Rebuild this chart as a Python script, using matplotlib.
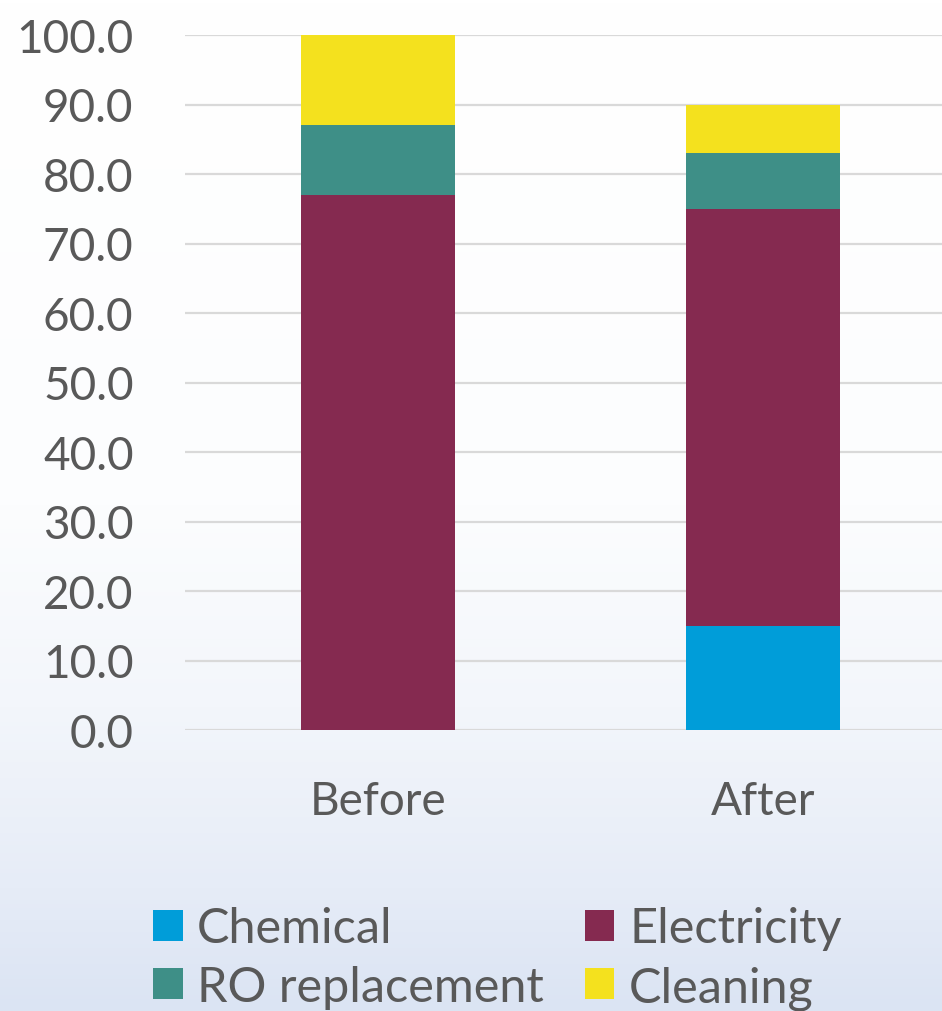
import numpy as np
import matplotlib.pyplot as plt
from matplotlib.colors import LinearSegmentedColormap

plt.rcParams['font.family'] = ['Lato', 'DejaVu Sans']

categories = ['Before', 'After']
chemical = [0.0, 15.0]
electricity = [77.0, 60.0]
ro_replacement = [10.0, 8.0]
cleaning = [13.0, 7.0]
yticks = [0, 10, 20, 30, 40, 50, 60, 70, 80, 90, 100]

colors = {
    'Chemical': '#009DD9',
    'Electricity': '#852A50',
    'RO replacement': '#3E8F87',
    'Cleaning': '#F4E11E',
}
text_color = '#595959'

fig = plt.figure(figsize=(9.42, 10.12), dpi=100)

# soft white-to-blue backdrop
bg = fig.add_axes([0, 0, 1, 1], zorder=-1)
grad = np.linspace(0, 1, 256).reshape(-1, 1)
bg_cmap = LinearSegmentedColormap.from_list(
    'bg', [(0.0, '#dbe4f3'), (0.12, '#e6ecf7'), (0.3, '#f3f6fb'),
           (0.5, '#fcfdfe'), (1.0, '#ffffff')])
bg.imshow(grad, aspect='auto', cmap=bg_cmap, origin='lower', extent=[0, 1, 0, 1])
bg.set_axis_off()

ax = fig.add_axes([185 / 942, 281 / 1012, 771 / 942, 695 / 1012])
ax.set_facecolor('none')

x = np.arange(len(categories))
w = 0.4
bottom = np.zeros(len(categories))
series = [('Chemical', chemical), ('Electricity', electricity),
          ('RO replacement', ro_replacement), ('Cleaning', cleaning)]
bars = {}
for name, vals in series:
    vals = np.array(vals)
    bars[name] = ax.bar(x, vals, w, bottom=bottom, color=colors[name], zorder=3)
    bottom = bottom + vals

ax.set_xlim(-0.5, 1.5)
ax.set_ylim(0, 100)
ax.set_yticks(yticks)
ax.set_yticklabels([f'{v:.1f}' for v in yticks])
ax.set_xticks(x)
ax.set_xticklabels(categories)
ax.grid(axis='y', color='#d9d9d9', linewidth=1.6, zorder=0)
ax.set_axisbelow(True)
for s in ax.spines.values():
    s.set_visible(False)
ax.tick_params(axis='both', length=0, labelsize=33, labelcolor=text_color)
ax.tick_params(axis='y', pad=37)
ax.tick_params(axis='x', pad=36)

# legend, two columns, running off the bottom edge
handles = [bars['Chemical'], bars['RO replacement'], bars['Electricity'], bars['Cleaning']]
labels = ['Chemical', 'RO replacement', 'Electricity', 'Cleaning']
leg = fig.legend(handles, labels, ncol=2, loc='upper left',
                 bbox_to_anchor=(134 / 942, 1 - 888 / 1012),
                 frameon=False, fontsize=35, labelcolor=text_color,
                 handlelength=0.6, handleheight=0.6, handletextpad=0.3,
                 columnspacing=0.85, labelspacing=0.3, borderaxespad=0)

fig.savefig('out.png', dpi=100)
